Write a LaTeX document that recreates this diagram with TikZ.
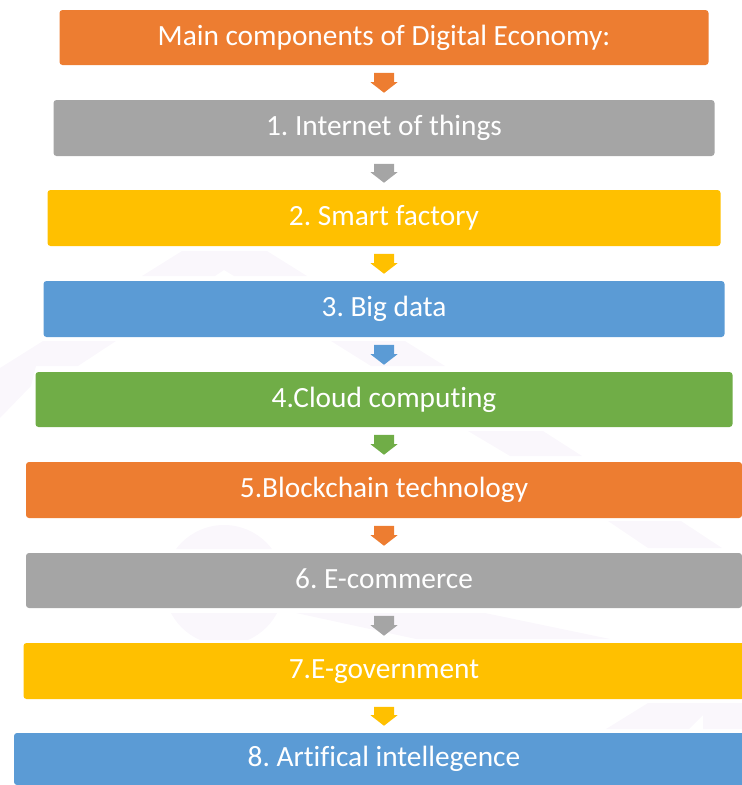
\documentclass[tikz,border=0pt]{standalone}
\usepackage{fontspec}
\setmainfont{Carlito}[Ligatures=NoCommon]
\usetikzlibrary{calc}

\definecolor{accOrange}{HTML}{ED7D31}
\definecolor{accGray}{HTML}{A5A5A5}
\definecolor{accGold}{HTML}{FFC000}
\definecolor{accBlue}{HTML}{5B9BD5}
\definecolor{accGreen}{HTML}{70AD47}
\definecolor{wmark}{RGB}{250,247,252}

% block arrow from the bottom of one stage to the top of the next
\newcommand\stagearrow[3]{%
  \fill[#3] ($(#1.south)+(-10,7.5)$) -- ($(#1.south)+(10,7.5)$)
    -- ($(#2.north)+(10,-17.5)$) -- ($(#2.north)+(13.5,-17.5)$)
    -- ($(#2.north)+(0,-7)$)
    -- ($(#2.north)+(-13.5,-17.5)$) -- ($(#2.north)+(-10,-17.5)$) -- cycle;}

\frenchspacing
\begin{document}
\begin{tikzpicture}[x=0.75pt,y=-0.75pt,
  stage/.style={rectangle, rounded corners=2.25pt, text=white, inner sep=0pt,
    font=\fontsize{22}{26}\selectfont, text height=14pt, text depth=2.2pt}]
\useasboundingbox (0,0) rectangle (742,785);

% faint background emblem
\fill[wmark] (182,251) -- (267,251) -- (307,276) -- (234,276) -- (224,270)
  -- (215,276) -- (142,276) -- cycle;
\fill[wmark] (43,341) -- (116,341) -- (78,366) -- (36,366) -- (31,386)
  -- (0,418) -- (0,368) -- cycle;
\fill[wmark] (331,341) -- (405,341) -- (445,366) -- (371,366) -- cycle;
\fill[wmark] (468,431) -- (543,431) -- (582,456) -- (510,456) -- cycle;
\begin{scope}
  \clip (0,522) rectangle (742,549) (0,613) rectangle (742,640);
  \fill[wmark] (224,585) circle[radius=60];
\end{scope}
\fill[wmark] (608,521) -- (681,521) -- (722,548) -- (648,548) -- cycle;
\fill[wmark] (296,613) -- (485,613) -- (610,639) -- (416,639) -- cycle;
\fill[wmark] (648,703) -- (742,703) -- (742,729) -- (703,729) -- (703,715)
  -- (689,729) -- (606,729) -- cycle;

% stages
\node[stage, fill=accOrange, minimum width=486.75pt, minimum height=41.25pt] (s0) at (384,37.5) {Main components of Digital Economy:};
\node[stage, fill=accGray,   minimum width=495.75pt, minimum height=42pt]    (s1) at (384,128)  {1. Internet of things};
\node[stage, fill=accGold,   minimum width=504.75pt, minimum height=42pt]    (s2) at (384,218)  {2. Smart factory};
\node[stage, fill=accBlue,   minimum width=510.75pt, minimum height=42pt]    (s3) at (384,309)  {3. Big data};
\node[stage, fill=accGreen,  minimum width=522.75pt, minimum height=41.25pt] (s4) at (384,399.5){4.Cloud computing};
\node[stage, fill=accOrange, minimum width=537pt,    minimum height=42pt]    (s5) at (384,490)  {5.Blockchain technology};
\node[stage, fill=accGray,   minimum width=537pt,    minimum height=41.25pt] (s6) at (384,580.5){6. E-commerce};
\node[stage, fill=accGold,   minimum width=540.75pt, minimum height=42pt]    (s7) at (384,671)  {7.E-government};
\node[stage, fill=accBlue,   minimum width=555pt,    minimum height=39pt]    (s8) at (384,759)  {8. Artifical intellegence};

% connecting arrows
\stagearrow{s0}{s1}{accOrange}
\stagearrow{s1}{s2}{accGray}
\stagearrow{s2}{s3}{accGold}
\stagearrow{s3}{s4}{accBlue}
\stagearrow{s4}{s5}{accGreen}
\stagearrow{s5}{s6}{accOrange}
\stagearrow{s6}{s7}{accGray}
\stagearrow{s7}{s8}{accGold}
\end{tikzpicture}
\end{document}
